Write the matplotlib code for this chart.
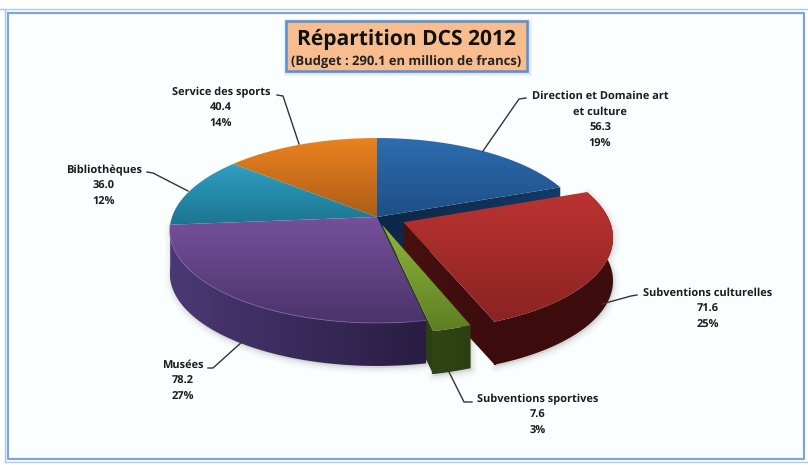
import numpy as np
import matplotlib
matplotlib.use("Agg")
import matplotlib.pyplot as plt
from matplotlib.colors import LinearSegmentedColormap
from matplotlib.patches import Polygon, Rectangle

plt.rcParams["text.hinting"] = "no_hinting"
plt.rcParams["text.hinting_factor"] = 1

# Budget shares, clockwise from twelve o'clock
categories = ["Direction et Domaine art\net culture", "Subventions culturelles",
              "Subventions sportives", "Musées", "Bibliothèques", "Service des sports"]
values = [56.3, 71.6, 7.6, 78.2, 36.0, 40.4]
percent_labels = ["19%", "25%", "3%", "27%", "12%", "14%"]
value_labels = ["56.3", "71.6", "7.6", "78.2", "36.0", "40.4"]
explode = [0, 0.14, 0.09, 0, 0, 0]
title = "Répartition DCS 2012"
subtitle = "(Budget : 290.1 en million de francs)"

top_colors = [("#2d6cb0", "#1e4f86"), ("#bb3331", "#8a2322"), ("#8fb53c", "#5e7f22"),
              ("#75509b", "#4c336c"), ("#2f9fc2", "#1c7590"), ("#ea821e", "#ad5d18")]
side_colors = [("#0c2746", "#143a66"), ("#3c0c0c", "#3e0e0e"), ("#304415", "#2c3f12"),
               ("#4a3874", "#2a1d43"), ("#1c6f88", "#1c6f88"), ("#a85a18", "#a85a18")]
radial_colors = [("#0c2746", "#143a66"), ("#471110", "#3c0c0c"), ("#2c3f12", "#2c3f12")]

# Perspective of the pie plane, in pixels
CX, CY = 377.0, 217.0
RX, RY, KP = 205.0, 90.5, 0.146
DEPTH = 43.0

fig = plt.figure(figsize=(8.08, 4.65), dpi=100, facecolor="white")
ax = fig.add_axes([0, 0, 1, 1])
ax.set_xlim(0, 808)
ax.set_ylim(465, 0)
ax.axis("off")


def project(px, py):
    f = 1.0 / (1.0 + KP * py)
    return CX + RX * px * f, CY - RY * py * f


def slice_geometry(start, end, exp):
    mid = (start + end) / 2
    ox, oy = exp * np.sin(mid), exp * np.cos(mid)
    th = np.linspace(start, end, 90)
    ax_, ay_ = project(ox + np.sin(th), oy + np.cos(th))
    apex = project(ox, oy)
    return np.array(apex), np.column_stack([ax_, ay_])


def gradient_fill(points, stops, vertical, z):
    points = np.asarray(points)
    poly = Polygon(points, closed=True, facecolor="none", edgecolor="none", zorder=z)
    ax.add_patch(poly)
    cmap = LinearSegmentedColormap.from_list("g", list(stops))
    ramp = np.linspace(0, 1, 64)
    ramp = ramp[:, None] if vertical else ramp[None, :]
    x0, y0 = points.min(axis=0)
    x1, y1 = points.max(axis=0)
    img = ax.imshow(ramp, cmap=cmap, vmin=0, vmax=1, extent=(x0, x1, y1, y0),
                    aspect="auto", origin="upper", interpolation="bilinear", zorder=z)
    img.set_clip_path(poly)
    ax.set_xlim(0, 808)
    ax.set_ylim(465, 0)


def wall_points(top_edge):
    lower = top_edge + np.array([0, DEPTH])
    return np.vstack([top_edge, lower[::-1]])


# Page background and double frame
ax.add_patch(Rectangle((8, 13), 796, 446, facecolor="#fbfefe", edgecolor="none", zorder=0))
ax.plot([0, 808], [8.7, 8.7], color="#aac7e8", lw=1.0, zorder=1)
ax.plot([5, 5, 808], [9, 462, 462], color="#aac7e8", lw=1.0, zorder=1)
ax.plot([8, 8, 804, 804, 8], [13, 459, 459, 13, 13], color="#7fa7d6", lw=1.6, zorder=1)

edges = np.deg2rad(np.concatenate([[0], np.cumsum(values) / np.sum(values) * 360]))
geo = [slice_geometry(edges[i], edges[i + 1], explode[i]) for i in range(len(values))]

# Soft shadow under the front walls
for idx in (3, 1, 2):
    apex, arc = geo[idx]
    for lw, alpha in ((9, 0.025), (6, 0.04), (3, 0.06)):
        ax.add_patch(Polygon(wall_points(arc) + np.array([1, 2]), closed=True, facecolor="#555555",
                             edgecolor="#555555", lw=lw, alpha=alpha, zorder=2, joinstyle="round"))

z = 3
# Back slices first: the cut face of the first slice shows in the gap
apex, arc = geo[0]
gradient_fill(wall_points(np.vstack([apex, arc[-1]])), side_colors[0], False, z); z += 1
for idx in (0, 5, 4):
    apex, arc = geo[idx]
    gradient_fill(np.vstack([apex, arc]), top_colors[idx], True, z); z += 1

# Radial faces of the pulled-out slices
for idx in (1, 2):
    apex, arc = geo[idx]
    gradient_fill(wall_points(np.vstack([apex, arc[-1]])), radial_colors[idx], False, z); z += 1

# Large front slice
apex, arc = geo[3]
gradient_fill(wall_points(arc[::-1]), side_colors[3], False, z); z += 1
gradient_fill(np.vstack([apex, arc]), top_colors[3], True, z); z += 1
ax.plot(arc[:, 0], arc[:, 1], color="#7f68aa", lw=0.6, alpha=0.8, zorder=z); z += 1

# Pulled-out slices in front; a dark seam closes the join between their two faces
for idx in (1, 2):
    apex, arc = geo[idx]
    gradient_fill(wall_points(arc), side_colors[idx], False, z); z += 1
    seam_x, seam_y = arc[-1]
    ax.plot([seam_x, seam_x], [seam_y, seam_y + DEPTH], color=side_colors[idx][0], lw=1.6,
            solid_capstyle="butt", zorder=z); z += 1
    gradient_fill(np.vstack([apex, arc]), top_colors[idx], True, z); z += 1

# Title box with a soft blue halo
for grow, alpha in ((5, 0.12), (3, 0.16), (1.5, 0.22)):
    ax.add_patch(Rectangle((286.5, 22.5), 241, 50, facecolor="none", edgecolor="#6f93c0",
                           lw=grow, alpha=alpha, zorder=z)); z += 1
ax.add_patch(Rectangle((285.5, 21.5), 241, 50, facecolor="#f8bd8e", edgecolor="#5a90cc",
                       lw=1.8, zorder=z)); z += 1
ax.text(406, 39.5, title, fontsize=15.4, fontweight="bold", family="Open Sans", color="#111111",
        ha="center", va="center", zorder=z)
ax.text(406, 62, subtitle, fontsize=9.3, fontweight="bold", family="Open Sans", color="#222222",
        ha="center", va="center", zorder=z)

# Callouts
label_x = [600, 708, 538, 183, 104, 221]
label_y = [96, 293, 399, 365, 170, 92]
line_step = 16.1
leader_paths = [
    [(526, 98), (519, 99), (483, 151)],
    [(637, 295), (631, 296), (602, 304)],
    [(472, 402), (464, 402), (449, 372)],
    [(208, 368), (213, 368), (243, 341)],
    [(147, 172), (153, 173), (188, 191)],
    [(277, 95), (283, 96), (299, 144)],
]
for i, name in enumerate(categories):
    lines = name.split("\n") + [value_labels[i], percent_labels[i]]
    for j, line in enumerate(lines):
        ax.text(label_x[i], label_y[i] + j * line_step, line, fontsize=8.16, fontweight="bold",
                family="Open Sans", color="#1c1c1c", ha="center", va="center", zorder=z)
    xs, ys = zip(*leader_paths[i])
    ax.plot(xs, ys, color="#333333", lw=1.0, zorder=z)

fig.savefig("out.png", dpi=100, facecolor="white")
